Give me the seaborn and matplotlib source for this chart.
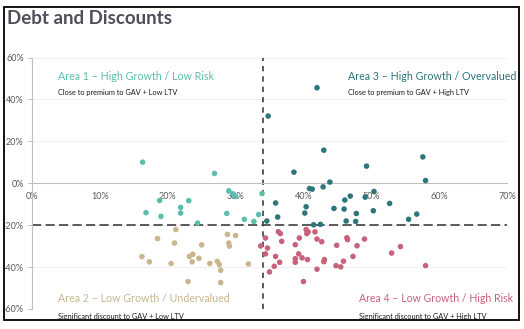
import matplotlib
matplotlib.use("Agg")
import matplotlib.pyplot as plt
import seaborn as sns
import pandas as pd
from matplotlib.patches import Rectangle

# ---------------- data ----------------
area1_x = [16.3, 26.9, 29.0, 29.6, 30.0, 18.8, 23.1, 33.9, 16.8, 19.0, 21.9, 21.9, 28.7, 24.4, 31.3, 32.7, 33.4]
area1_y = [10.1, 4.7, -3.6, -5.0, -6.3, -8.2, -8.3, -4.9, -14.0, -15.8, -11.5, -14.2, -14.4, -19.0, -17.2, -18.2, -14.9]

area2_x = [21.2, 18.5, 21.0, 28.8, 30.0, 29.0, 29.1, 25.0, 16.2, 17.3, 20.5, 23.2, 23.7, 23.6, 24.6, 26.2, 27.3, 27.6, 27.8, 31.9, 23.0, 27.8]
area2_y = [-22.1, -26.4, -28.5, -24.4, -24.9, -28.5, -30.0, -29.4, -35.0, -37.5, -38.3, -34.9, -33.9, -37.5, -35.8, -38.3, -37.2, -38.8, -41.5, -38.5, -46.9, -47.4]

area3_x = [42.0, 34.8, 43.0, 57.6, 38.6, 49.3, 58.0, 40.9, 41.3, 42.9, 43.9, 50.4, 49.1, 46.9, 46.1, 52.7, 35.9, 40.4, 40.2, 44.5, 46.0, 50.3, 47.8, 36.2, 34.6, 46.3, 47.7, 41.5, 42.5, 55.5, 56.7]
area3_y = [45.6, 32.1, 15.8, 12.6, 5.3, 8.2, 1.3, -2.5, -2.8, -1.7, 0.6, -3.9, -6.6, -6.1, -8.0, -9.6, -9.4, -11.2, -14.2, -12.0, -12.3, -13.1, -14.4, -16.1, -18.0, -18.0, -18.2, -19.8, -19.6, -17.2, -14.7]

area4_x = [34.4, 34.7, 33.7, 34.4, 35.0, 36.3, 36.6, 36.8, 35.9, 36.5, 35.7, 38.8, 39.4, 39.3, 38.8, 38.8, 39.8, 40.6, 40.4, 40.7, 40.5, 41.7, 42.0, 42.7, 43.1, 43.0, 42.0, 40.0, 44.9, 46.4, 46.5, 44.8, 45.5, 45.9, 47.3, 47.9, 49.0, 53.0, 54.3, 58.0]
area4_y = [-26.1, -30.9, -29.9, -33.7, -42.3, -23.1, -24.0, -27.7, -34.9, -37.7, -39.6, -29.3, -26.1, -33.7, -36.0, -37.7, -35.6, -36.4, -22.1, -23.2, -24.0, -23.2, -26.6, -27.9, -36.4, -37.4, -41.0, -46.9, -29.6, -26.0, -26.9, -39.3, -39.9, -37.2, -34.9, -29.8, -26.6, -33.3, -30.2, -39.3]

area_names = ["Area 1", "Area 2", "Area 3", "Area 4"]
area_titles = ["Area 1 \u2013 High Growth / Low Risk", "Area 2 \u2013 Low Growth / Undervalued",
               "Area 3 \u2013 High Growth / Overvalued", "Area 4 \u2013 Low Growth / High Risk"]
area_subs = ["Close to premium to GAV + Low LTV", "Significant discount to GAV + Low LTV",
             "Close to premium to GAV + High LTV", "Significant discount to GAV + High LTV"]
x_ticks = [0, 10, 20, 30, 40, 50, 60, 70]
y_ticks = [-60, -40, -20, 0, 20, 40, 60]
x_split = 34
y_split = -20
title = "Debt and Discounts"

colors = {"Area 1": "#5BBEAC", "Area 2": "#C9B68C", "Area 3": "#2D767B", "Area 4": "#C8627A"}

rows = []
for name, xs, ys in zip(area_names, [area1_x, area2_x, area3_x, area4_x], [area1_y, area2_y, area3_y, area4_y]):
    for a, b in zip(xs, ys):
        rows.append({"x": a, "y": b, "area": name})
df = pd.DataFrame(rows)

# ---------------- figure ----------------
sns.set_style("white")
plt.rcParams["font.family"] = ["Lato", "DejaVu Sans"]

W, H = 524, 329
fig = plt.figure(figsize=(W / 100, H / 100), dpi=100)
fig.patch.set_facecolor("white")
renderer = fig.canvas.get_renderer()

def fx(px):
    return px / W

def fy(py):
    return 1 - py / H

def fit_text(px, py, s, width_px, size, **kw):
    t = fig.text(fx(px), fy(py), s, fontsize=size, va="center", ha="left", **kw)
    w = t.get_window_extent(renderer=renderer).width
    if w > 0:
        t.set_fontsize(size * width_px / w)
    return t

x0, x1, y0, y1 = 32, 507, 57.6, 309
ax = fig.add_axes([fx(x0), fy(y1), fx(x1) - fx(x0), fy(y0) - fy(y1)])
ax.set_facecolor("none")

for t in y_ticks:
    ax.axhline(t, color="#F0F0F0", lw=0.7, zorder=0)

ax.axvline(x_split, color="#3F3F3F", lw=1.2, ls=(0, (3.2, 3.0)), zorder=1)
ax.plot([0, 70], [y_split, y_split], color="#3F3F3F", lw=1.2, ls=(0, (5.5, 2.6)), zorder=1)

sns.scatterplot(data=df, x="x", y="y", hue="area", palette=colors, s=16,
                linewidth=0, legend=False, ax=ax, zorder=3)

ax.set_xlim(0, 70)
ax.set_ylim(-60, 60)
ax.set_xticks(x_ticks)
ax.set_yticks(y_ticks)
ax.set_xticklabels([f"{t}%" for t in x_ticks])
ax.set_yticklabels([f"{t}%" for t in y_ticks])
ax.set_xlabel("")
ax.set_ylabel("")

for s in ["top", "right"]:
    ax.spines[s].set_visible(False)
ax.spines["bottom"].set_position(("data", 0))
ax.spines["bottom"].set_color("#BFBFBF")
ax.spines["bottom"].set_linewidth(0.8)
ax.spines["left"].set_color("#BFBFBF")
ax.spines["left"].set_linewidth(0.8)
ax.tick_params(axis="x", length=0, pad=6, labelsize=6.5, labelcolor="#595959")
ax.tick_params(axis="y", length=3, width=0.7, color="#BFBFBF", pad=3, labelsize=6.5, labelcolor="#595959", left=True)

# title
fit_text(7, 19, title, 165, 12.5, fontweight="bold", color="#4F4F5A")

# area labels: (x, y title, y sub, title width, sub width)
lab_pos = {"Area 1": (58, 76, 93, 155, 121), "Area 2": (58, 299, 316.5, 172, 127),
           "Area 3": (348, 76.5, 93, 168, 121), "Area 4": (359, 299, 316.5, 154, 128)}
for name, t, sub in zip(area_names, area_titles, area_subs):
    px, py, psy, tw, sw = lab_pos[name]
    fit_text(px, py, t, tw, 8.0, color=colors[name])
    fit_text(px, psy, sub, sw, 5.4, color="#1A1A1A")

# outer frame
fig.patches.append(Rectangle((fx(4), fy(320)), fx(519) - fx(4), fy(7) - fy(320),
                             transform=fig.transFigure, fill=False, edgecolor="black", lw=1.3))

fig.savefig("out.png", dpi=100)
